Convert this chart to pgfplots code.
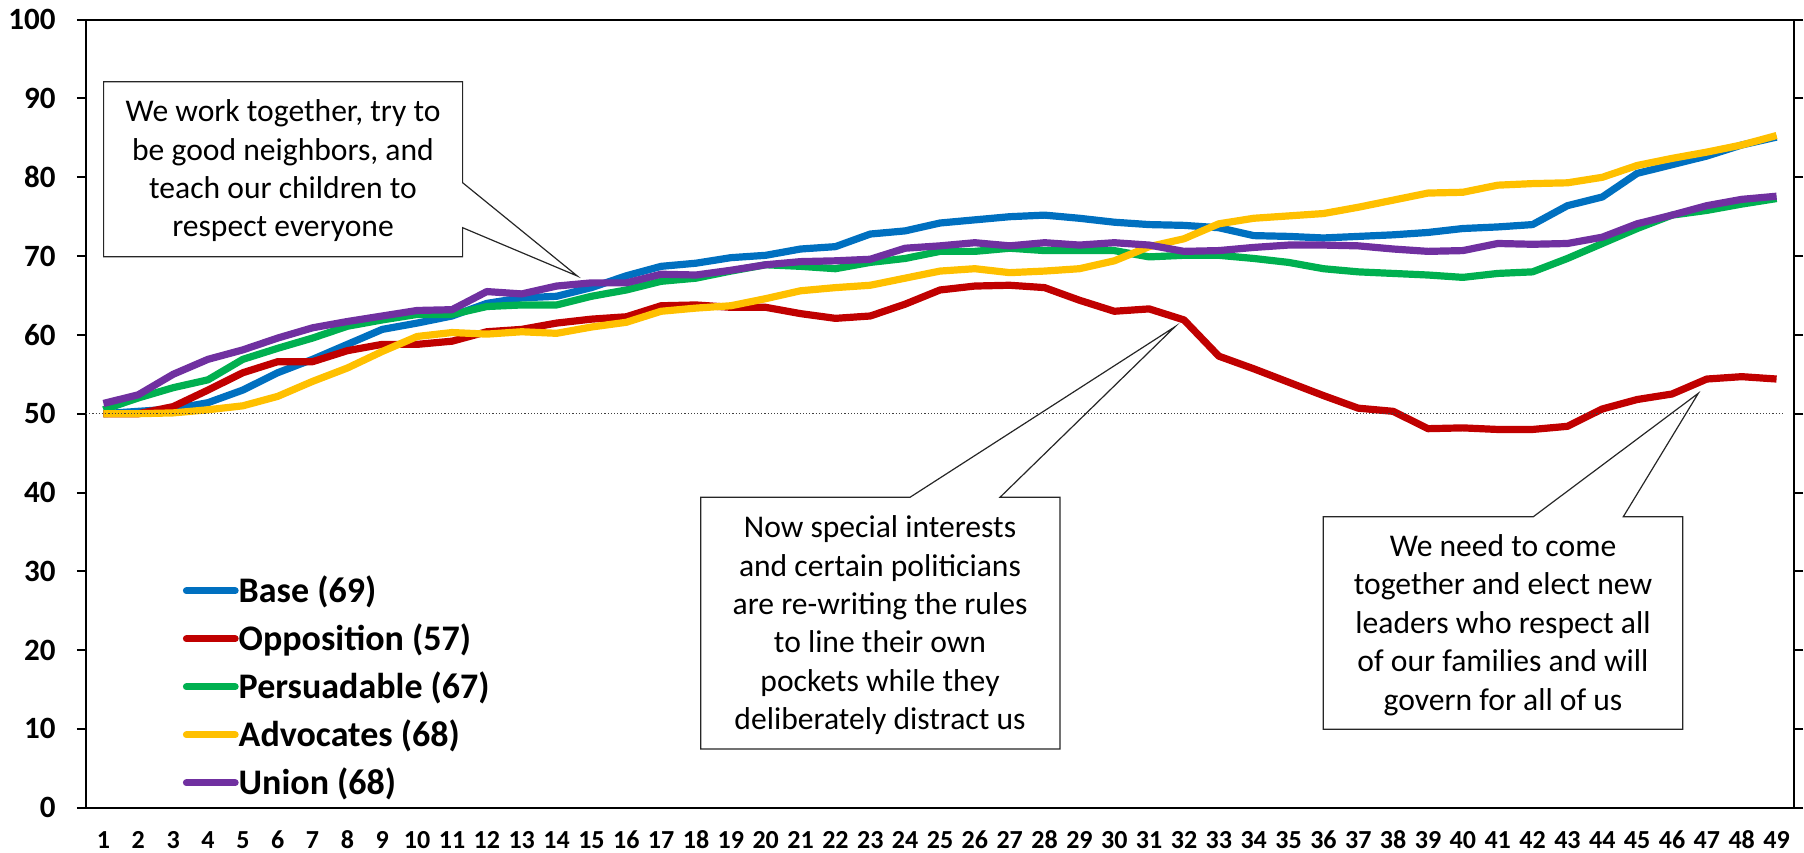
\documentclass[border=0pt]{standalone}
\usepackage{pgfplots}
\pgfplotsset{compat=1.18}
\usepackage{fontspec}
\setmainfont{Carlito}
\definecolor{cBase}{HTML}{0070C0}
\definecolor{cOpp}{HTML}{C00000}
\definecolor{cPers}{HTML}{00B050}
\definecolor{cAdv}{HTML}{FFC000}
\definecolor{cUnion}{HTML}{7030A0}
\begin{document}
\begin{tikzpicture}
\useasboundingbox (0,0) rectangle (902pt,426pt);
\begin{axis}[
  at={(43pt,22.15pt)}, anchor=south west,
  scale only axis, width=854pt, height=394pt,
  xmin=0.5, xmax=49.5, ymin=0, ymax=100,
  xtick={1,...,49}, ytick={0,10,...,100},
  axis line style={black, line width=1pt},
  tick align=outside,
  xtick style={draw=none},
  ytick style={black, line width=1pt},
  major tick length=4.5pt,
  /pgf/number format/assume math mode=true,
  yticklabel style={font=\fontsize{15.5}{18}\selectfont\bfseries, anchor=east, inner sep=0pt, xshift=-10.5pt},
  xticklabel style={font=\fontsize{13}{15}\selectfont\bfseries, anchor=base, inner sep=0pt, yshift=-15.8pt},
  legend cell align=left,
  legend image code/.code={\draw[line width=3.5pt, line cap=round] (0pt,0pt) -- (24.4pt,0pt);},
  legend style={at={(48.25pt,119pt)}, anchor=north west, draw=none, fill=none, inner sep=0pt,
    font=\fontsize{18}{21}\selectfont\bfseries, row sep=3.3pt,
    nodes={inner sep=0pt, text height=16.2pt, text depth=4.5pt},
    /tikz/every even column/.append style={column sep=4.5pt}},
  every axis plot/.append style={line width=3.6pt, line join=round},
]
\addplot[cBase] coordinates {
(1,50.0) (2,50.3) (3,50.6) (4,51.4) (5,53.0) (6,55.2) (7,56.9) (8,58.8) (9,60.7) (10,61.5)
(11,62.4) (12,64.0) (13,64.7) (14,64.9) (15,66.0) (16,67.5) (17,68.7) (18,69.1) (19,69.8) (20,70.1)
(21,70.9) (22,71.2) (23,72.8) (24,73.2) (25,74.2) (26,74.6) (27,75.0) (28,75.2) (29,74.8) (30,74.3)
(31,74.0) (32,73.9) (33,73.6) (34,72.6) (35,72.5) (36,72.3) (37,72.5) (38,72.7) (39,73.0) (40,73.5)
(41,73.7) (42,74.0) (43,76.4) (44,77.5) (45,80.5) (46,81.6) (47,82.7) (48,84.1) (49,85.1)};
\addlegendentry{Base (69)}
\addplot[cOpp] coordinates {
(1,50.0) (2,50.0) (3,50.9) (4,53.0) (5,55.2) (6,56.6) (7,56.6) (8,58.0) (9,58.8) (10,58.8)
(11,59.2) (12,60.4) (13,60.7) (14,61.5) (15,62.0) (16,62.3) (17,63.7) (18,63.8) (19,63.5) (20,63.5)
(21,62.7) (22,62.1) (23,62.4) (24,63.9) (25,65.7) (26,66.2) (27,66.3) (28,66.0) (29,64.4) (30,63.0)
(31,63.3) (32,61.9) (33,57.3) (34,55.7) (35,54.0) (36,52.3) (37,50.7) (38,50.3) (39,48.1) (40,48.2)
(41,48.0) (42,48.0) (43,48.4) (44,50.6) (45,51.8) (46,52.5) (47,54.4) (48,54.7) (49,54.4)};
\addlegendentry{Opposition (57)}
\addplot[cPers] coordinates {
(1,50.5) (2,52.0) (3,53.3) (4,54.3) (5,56.9) (6,58.3) (7,59.6) (8,61.1) (9,61.9) (10,62.6)
(11,62.6) (12,63.6) (13,63.8) (14,63.8) (15,64.9) (16,65.7) (17,66.8) (18,67.2) (19,68.1) (20,68.9)
(21,68.7) (22,68.4) (23,69.2) (24,69.7) (25,70.6) (26,70.6) (27,71.0) (28,70.7) (29,70.7) (30,70.7)
(31,69.9) (32,70.1) (33,70.1) (34,69.7) (35,69.2) (36,68.4) (37,68.0) (38,67.8) (39,67.6) (40,67.3)
(41,67.8) (42,68.0) (43,69.7) (44,71.6) (45,73.5) (46,75.2) (47,75.8) (48,76.6) (49,77.3)};
\addlegendentry{Persuadable (67)}
\addplot[cAdv] coordinates {
(1,50.0) (2,50.0) (3,50.1) (4,50.5) (5,51.0) (6,52.2) (7,54.1) (8,55.8) (9,57.9) (10,59.8)
(11,60.3) (12,60.1) (13,60.4) (14,60.2) (15,61.0) (16,61.6) (17,63.0) (18,63.4) (19,63.7) (20,64.6)
(21,65.6) (22,66.0) (23,66.3) (24,67.2) (25,68.1) (26,68.4) (27,67.9) (28,68.1) (29,68.4) (30,69.4)
(31,71.2) (32,72.2) (33,74.1) (34,74.8) (35,75.1) (36,75.4) (37,76.2) (38,77.1) (39,78.0) (40,78.1)
(41,79.0) (42,79.2) (43,79.3) (44,80.0) (45,81.5) (46,82.4) (47,83.2) (48,84.1) (49,85.3)};
\addlegendentry{Advocates (68)}
\addplot[cUnion] coordinates {
(1,51.3) (2,52.4) (3,55.0) (4,56.9) (5,58.1) (6,59.6) (7,60.9) (8,61.7) (9,62.4) (10,63.1)
(11,63.2) (12,65.5) (13,65.2) (14,66.2) (15,66.6) (16,66.6) (17,67.7) (18,67.6) (19,68.2) (20,68.9)
(21,69.3) (22,69.4) (23,69.6) (24,71.0) (25,71.3) (26,71.7) (27,71.3) (28,71.7) (29,71.4) (30,71.7)
(31,71.4) (32,70.6) (33,70.7) (34,71.1) (35,71.4) (36,71.4) (37,71.3) (38,70.9) (39,70.6) (40,70.7)
(41,71.6) (42,71.5) (43,71.6) (44,72.4) (45,74.1) (46,75.2) (47,76.4) (48,77.2) (49,77.6)};
\addlegendentry{Union (68)}
\addplot[black!75, line width=0.6pt, densely dotted, forget plot] coordinates {(0.5,50) (49.2,50)};
\end{axis}
\begin{scope}[x=0.5pt, y=-0.5pt, yshift=426pt, font=\fontsize{15.8}{19.2}\selectfont]
  \fill[white] (103.6,81.7) rectangle (462.6,256.7);
  \draw[black!85, line width=0.6pt] (103.6,81.7) -- (462.6,81.7) -- (462.6,182.7) -- (577.3,276) -- (462.6,227.7) -- (462.6,256.7) -- (103.6,256.7) -- cycle;
  \node[align=center, inner sep=0pt] at (283,170.8) {We work together, try to\\be good neighbors, and\\teach our children to\\respect everyone};
  \fill[white] (700.7,497.3) rectangle (1060,749);
  \draw[black!85, line width=0.6pt] (700.7,497.3) -- (910,497.3) -- (1175,326.7) -- (1000,497.3) -- (1060,497.3) -- (1060,749) -- (700.7,749) -- cycle;
  \node[align=center, inner sep=0pt] at (880,625.2) {Now special interests\\and certain politicians\\are re-writing the rules\\to line their own\\pockets while they\\deliberately distract us};
  \fill[white] (1323.3,516.7) rectangle (1682.7,729.3);
  \draw[black!85, line width=0.6pt] (1323.3,516.7) -- (1533.3,516.7) -- (1698.3,393.3) -- (1623.3,516.7) -- (1682.7,516.7) -- (1682.7,729.3) -- (1323.3,729.3) -- cycle;
  \node[align=center, inner sep=0pt] at (1503,625) {We need to come\\together and elect new\\leaders who respect all\\of our families and will\\govern for all of us};
\end{scope}
\end{tikzpicture}
\end{document}
